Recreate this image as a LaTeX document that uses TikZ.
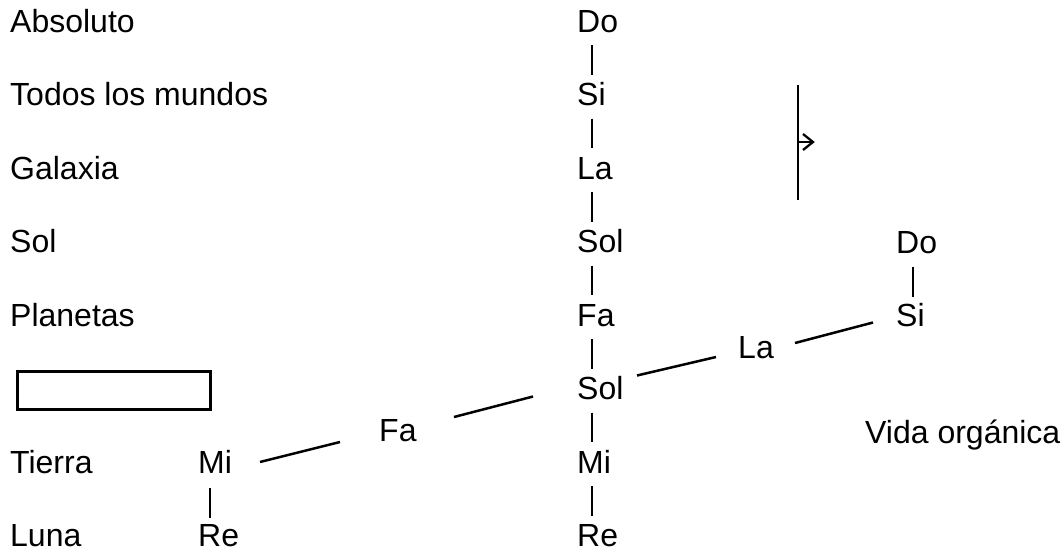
\documentclass[tikz,border=0pt]{standalone}
\usepackage{fontspec}
\setmainfont{Liberation Sans}
\usetikzlibrary{calc}
\begin{document}
\begin{tikzpicture}[x=1pt,y=-1pt,
  lbl/.style={anchor=base west,inner sep=0pt,font=\fontsize{32}{36}\selectfont},
  ln/.style={line width=2.5pt},
  box/.style={draw,line width=2.5pt}]
\useasboundingbox (0,0) rectangle (1063,555);
% left column
\node[lbl] (abs) at (10,32) {Absoluto};
\node[lbl] (todos) at (10,105.5) {Todos los mundos};
\node[lbl] (gal) at (10,179) {Galaxia};
\node[lbl] (solL) at (10,252.5) {Sol};
\node[lbl] (plan) at (10,326) {Planetas};
\node[box,minimum width=193pt,minimum height=38pt,inner sep=0pt,anchor=north west] (rect) at (16,370) {};
\node[lbl] (tierra) at (10,473) {Tierra};
\node[lbl] (luna) at (10,546.5) {Luna};
% middle column
\node[lbl] (m1) at (577,32) {Do};
\node[lbl] (m2) at (577,105.5) {Si};
\node[lbl] (m3) at (577,179) {La};
\node[lbl] (m4) at (577,252.5) {Sol};
\node[lbl] (m5) at (577,326) {Fa};
\node[lbl] (m6) at (577,399.5) {Sol};
\node[lbl] (m7) at (577,473) {Mi};
\node[lbl] (m8) at (577,546.5) {Re};
\foreach \a/\b in {m1/m2,m2/m3,m3/m4,m4/m5,m5/m6,m6/m7,m7/m8}
  \draw[ln] ($(\a.base west)+(15,13)$) -- ($(\b.base west)+(15,-31)$);
% lower left branch
\node[lbl] (mi) at (198,473) {Mi};
\node[lbl] (re) at (198,546.5) {Re};
\node[lbl] (fa) at (379,441) {Fa};
\draw[ln] ($(mi.base west)+(12,15)$) -- ($(re.base west)+(12,-29)$);
\draw[ln] ($(mi.base west)+(62,-11)$) -- ($(fa.base west)+(-39,1)$);
\draw[ln] ($(fa.base west)+(75,-24)$) -- ($(m6.base west)+(-44,-3)$);
% right branch
\node[lbl] (la) at (738,358) {La};
\node[lbl] (si) at (896,326.5) {Si};
\node[lbl] (do) at (896,253) {Do};
\draw[ln] ($(m6.base west)+(60,-24)$) -- ($(la.base west)+(-22,-1)$);
\draw[ln] ($(la.base west)+(57,-15)$) -- ($(si.base west)+(-23,-4)$);
\draw[ln] ($(do.base west)+(17,14)$) -- ($(si.base west)+(17,-30)$);
\node[lbl] (vida) at (865,443) {Vida orgánica};
% arrow mark
\coordinate (vt) at (798,85);
\coordinate (vb) at (798,200);
\coordinate (am) at (798,142);
\coordinate (at) at (813,142);
\coordinate (aw1) at (803,134);
\coordinate (aw2) at (803,150);
\draw[ln] (vt) -- (vb);
\draw[line width=2.3pt] (am) -- (at);
\draw[line width=2.3pt,line join=miter] (aw1) -- (at) -- (aw2);
\end{tikzpicture}
\end{document}
